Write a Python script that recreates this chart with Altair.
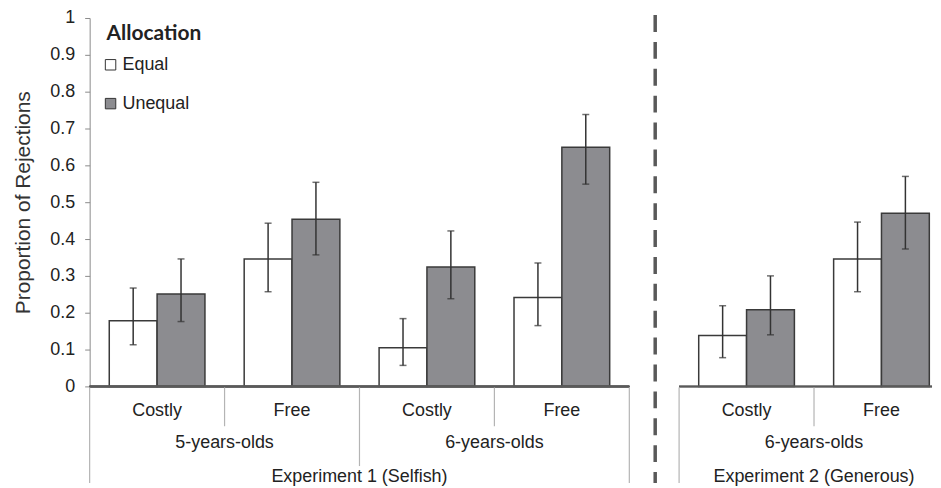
import altair as alt
import pandas as pd

allocations = ["Equal", "Unequal"]
fill_colors = ["#ffffff", "#8c8c90"]

# Experiment 1 (Selfish)
exp1_cells = ["5|Costly", "5|Free", "6|Costly", "6|Free"]
exp1_cost = ["Costly", "Free", "Costly", "Free"]
exp1_equal = [0.178, 0.346, 0.105, 0.241]
exp1_equal_lo = [0.113, 0.257, 0.057, 0.165]
exp1_equal_hi = [0.267, 0.443, 0.184, 0.335]
exp1_unequal = [0.251, 0.454, 0.324, 0.649]
exp1_unequal_lo = [0.176, 0.357, 0.238, 0.549]
exp1_unequal_hi = [0.346, 0.554, 0.422, 0.738]
exp1_age_cells = ["5|Free", "6|Free"]
exp1_age_labels = ["5-years-olds", "6-years-olds"]
exp1_mid_sep = ["6|Costly"]
exp1_title_cell = ["6|Costly"]
exp1_title = ["Experiment 1 (Selfish)"]

# Experiment 2 (Generous)
exp2_cells = ["Costly", "Free"]
exp2_cost = ["Costly", "Free"]
exp2_equal = [0.138, 0.346]
exp2_equal_lo = [0.078, 0.257]
exp2_equal_hi = [0.219, 0.446]
exp2_unequal = [0.208, 0.470]
exp2_unequal_lo = [0.140, 0.373]
exp2_unequal_hi = [0.300, 0.570]
exp2_age_cells = ["Free"]
exp2_age_labels = ["6-years-olds"]
exp2_mid_sep = []
exp2_title_cell = ["Free"]
exp2_title = ["Experiment 2 (Generous)"]

y_ticks = [0.0, 0.1, 0.2, 0.3, 0.4, 0.5, 0.6, 0.7, 0.8, 0.9, 1.0]

H = 370
FONT = "Liberation Sans"
TXT = "#222222"
SEP = "#b4b4b4"


def panel(cells, cost, eq, eq_lo, eq_hi, un, un_lo, un_hi, age_cells, age_labels,
          mid_sep, title_cell, title, width, rng, first):
    rows = []
    for i, c in enumerate(cells):
        rows.append(dict(cell=c, cost=cost[i], allocation="Equal", value=eq[i], lo=eq_lo[i], hi=eq_hi[i]))
        rows.append(dict(cell=c, cost=cost[i], allocation="Unequal", value=un[i], lo=un_lo[i], hi=un_hi[i]))
    df = pd.DataFrame(rows)

    sc_kw = dict(domain=cells, paddingInner=0, paddingOuter=0)
    if rng is not None:
        sc_kw["range"] = rng
    xs = alt.Scale(**sc_kw)

    def X(pos=None):
        if pos is None:
            return alt.X("cell:N", scale=xs, axis=None)
        return alt.X("cell:N", scale=xs, axis=None, bandPosition=pos)

    xo = alt.XOffset("allocation:N", scale=alt.Scale(domain=allocations, paddingOuter=0.41, paddingInner=0))

    if first:
        yaxis = alt.Axis(values=y_ticks, tickCount=11, labelOverlap=False, format="~g", grid=False,
                         tickSize=5, domainColor="#8a8a8a", tickColor="#8a8a8a",
                         labelFont=FONT, labelFontSize=18, labelColor=TXT, labelPadding=10,
                         title="Proportion of Rejections", titleFont=FONT, titleFontSize=21,
                         titleFontWeight="normal", titleColor="#333333", titlePadding=16)
        legend = alt.Legend(title="Allocation", orient="none", legendX=17, legendY=5,
                            titleFont="Lato", titleFontSize=21, titleFontWeight="bold", titleColor=TXT,
                            labelFont=FONT, labelFontSize=18, labelColor=TXT, labelOffset=3,
                            symbolType="square", symbolSize=110, symbolStrokeColor="#333333",
                            symbolStrokeWidth=1, symbolOffset=-5, rowPadding=21, titlePadding=12,
                            padding=0)
    else:
        yaxis = None
        legend = None

    yscale = alt.Scale(domain=[0, 1], nice=False)
    base = alt.Chart(df)

    def Y(field):
        return alt.Y(field, scale=yscale, axis=yaxis)

    bars = base.mark_bar(stroke="#3a3a3a", strokeWidth=1.5).encode(
        x=X(), xOffset=xo,
        y=Y("value:Q"),
        fill=alt.Fill("allocation:N", scale=alt.Scale(domain=allocations, range=fill_colors), legend=legend),
    )
    baseline = base.mark_rule(color="#5a5a5a", strokeWidth=1.5).encode(
        y=alt.value(H), x=alt.value(0), x2=alt.value(width))
    err = base.mark_rule(color="#333333", strokeWidth=1.5).encode(
        x=X(), xOffset=xo, y=Y("lo:Q"), y2="hi:Q")
    cap_hi = base.mark_tick(orient="horizontal", size=7, thickness=1.5, color="#333333").encode(
        x=X(), xOffset=xo, y=Y("hi:Q"))
    cap_lo = base.mark_tick(orient="horizontal", size=7, thickness=1.5, color="#333333").encode(
        x=X(), xOffset=xo, y=Y("lo:Q"))

    cells_df = pd.DataFrame(dict(cell=cells, cost=cost))
    cost_txt = alt.Chart(cells_df).mark_text(font=FONT, fontSize=18, color=TXT, baseline="middle").encode(
        x=X(), y=alt.value(H + 25), text="cost:N")

    free_cells = [c for c, k in zip(cells, cost) if k == "Free"]
    sep1 = alt.Chart(pd.DataFrame(dict(cell=free_cells))).mark_rule(color=SEP, strokeWidth=1.2).encode(
        x=X(0), y=alt.value(H + 1), y2=alt.value(H + 40))

    age_df = pd.DataFrame(dict(cell=age_cells, label=age_labels))
    age_txt = alt.Chart(age_df).mark_text(font=FONT, fontSize=18, color=TXT, baseline="middle").encode(
        x=X(0), y=alt.value(H + 57), text="label:N")

    title_df = pd.DataFrame(dict(cell=title_cell, label=title))
    title_txt = alt.Chart(title_df).mark_text(font=FONT, fontSize=18, color=TXT, baseline="middle").encode(
        x=X(0), y=alt.value(H + 91), text="label:N")

    bound_l = alt.Chart(pd.DataFrame(dict(cell=cells[:1]))).mark_rule(color=SEP, strokeWidth=1.2).encode(
        x=X(0), y=alt.value(H + 1), y2=alt.value(H + 97))

    layers = [bars, baseline, err, cap_hi, cap_lo, cost_txt, sep1, age_txt, title_txt, bound_l]

    if mid_sep:
        sep2 = alt.Chart(pd.DataFrame(dict(cell=mid_sep))).mark_rule(color=SEP, strokeWidth=1.2).encode(
            x=X(0), y=alt.value(H + 1), y2=alt.value(H + 80))
        layers.append(sep2)
    if first:
        bound_r = alt.Chart(pd.DataFrame(dict(cell=cells[-1:]))).mark_rule(color=SEP, strokeWidth=1.2).encode(
            x=X(1), y=alt.value(H + 1), y2=alt.value(H + 97))
        layers.append(bound_r)
    else:
        dash = alt.Chart(pd.DataFrame(dict(cell=cells[:1]))).mark_rule(
            color="#595959", strokeWidth=3.5, strokeDash=[17, 10]).encode(
            x=alt.value(-24), y=alt.value(-3), y2=alt.value(H + 97))
        layers.append(dash)

    return alt.layer(*layers).properties(width=width, height=H)


left = panel(exp1_cells, exp1_cost, exp1_equal, exp1_equal_lo, exp1_equal_hi,
             exp1_unequal, exp1_unequal_lo, exp1_unequal_hi, exp1_age_cells, exp1_age_labels,
             exp1_mid_sep, exp1_title_cell, exp1_title, 542, None, True)
right = panel(exp2_cells, exp2_cost, exp2_equal, exp2_equal_lo, exp2_equal_hi,
              exp2_unequal, exp2_unequal_lo, exp2_unequal_hi, exp2_age_cells, exp2_age_labels,
              exp2_mid_sep, exp2_title_cell, exp2_title, 254, [0, 271], False)

chart = alt.hconcat(left, right, spacing=50, bounds="flush").resolve_scale(
    fill="independent", x="independent", xOffset="independent", y="independent"
).resolve_legend(fill="independent").properties(
    padding={"left": 4, "top": 0, "right": 0, "bottom": 0}
).configure_view(stroke=None).configure_axisY(tickCount=11)

chart.save("out.html", embed_options={"renderer": "svg", "actions": False})
